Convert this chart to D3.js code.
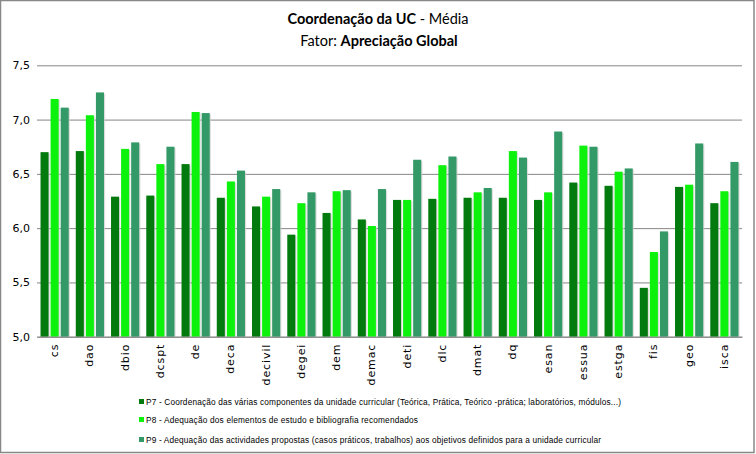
<!DOCTYPE html>
<html>
<head>
<meta charset="utf-8">
<script src="https://cdn.jsdelivr.net/npm/d3@7"></script>
<style>
  html, body { margin: 0; padding: 0; background: #fff; }
  svg { display: block; }
</style>
</head>
<body>
<svg id="chart" width="756" height="454"></svg>
<script>
const categories = ["cs","dao","dbio","dcspt","de","deca","decivil","degei","dem","demac","deti","dlc","dmat","dq","esan","essua","estga","fis","geo","isca"];
const seriesNames = [
  "P7 - Coordenação das várias componentes da unidade curricular (Teórica, Prática, Teórico -prática; laboratórios, módulos...)",
  "P8 - Adequação dos elementos de estudo e bibliografia recomendados",
  "P9 - Adequação das actividades propostas (casos práticos, trabalhos) aos objetivos definidos para a unidade curricular"
];
const p7 = [6.70, 6.71, 6.29, 6.30, 6.59, 6.28, 6.20, 5.94, 6.14, 6.08, 6.26, 6.27, 6.28, 6.28, 6.26, 6.42, 6.39, 5.45, 6.38, 6.23];
const p8 = [7.19, 7.04, 6.73, 6.59, 7.07, 6.43, 6.29, 6.23, 6.34, 6.02, 6.26, 6.58, 6.33, 6.71, 6.33, 6.76, 6.52, 5.78, 6.40, 6.34];
const p9 = [7.11, 7.25, 6.79, 6.75, 7.06, 6.53, 6.36, 6.33, 6.35, 6.36, 6.63, 6.66, 6.37, 6.65, 6.89, 6.75, 6.55, 5.97, 6.78, 6.61];
const yTicks = [5.0, 5.5, 6.0, 6.5, 7.0, 7.5];
const colors = ["#037a0d", "#0cf20c", "#339966"];

const seriesValues = [p7, p8, p9];
const svg = d3.select("#chart");

// outer border
svg.append("rect").attr("x", 0.5).attr("y", 0.5).attr("width", 753.5).attr("height", 452)
  .attr("fill", "#fff").attr("stroke", "#888").attr("stroke-width", 1.5);

// title
const title = svg.append("g").attr("font-family", "Lato, 'Open Sans', sans-serif").attr("font-size", 14.5)
  .attr("text-anchor", "middle").attr("fill", "#000");
const t1 = title.append("text").attr("x", 378).attr("y", 24);
t1.append("tspan").attr("font-weight", "bold").text("Coordenação da UC");
t1.append("tspan").text(" - Média");
const t2 = title.append("text").attr("x", 379).attr("y", 46);
t2.append("tspan").text("Fator: ");
t2.append("tspan").attr("font-weight", "bold").text("Apreciação Global");

const plot = { left: 37, right: 742, top: 65.3, bottom: 336.7 };
const x = d3.scaleBand().domain(categories).range([plot.left, plot.right]).padding(0);
const cw = x.bandwidth();
const gap = cw * 0.1;
const xs = d3.scaleBand().domain([0,1,2]).range([gap, cw - gap]).paddingInner(0.2).paddingOuter(0);
const y = d3.scaleLinear().domain([5, 7.5]).range([plot.bottom, plot.top]);

// gridlines via axis
const yAxis = d3.axisLeft(y).tickValues(yTicks).tickSize(-(plot.right - plot.left))
  .tickFormat(d => d3.format(".1f")(d).replace(".", ","));
const gy = svg.append("g").attr("transform", `translate(${plot.left},0)`).call(yAxis);
gy.select(".domain").remove();
gy.selectAll(".tick line").attr("stroke", "#868686").attr("stroke-width", 1);
gy.selectAll(".tick text").attr("x", -7).attr("font-family", "'DejaVu Sans', Verdana, sans-serif")
  .attr("font-size", 11).attr("fill", "#000");

// bars
const groups = svg.append("g").selectAll("g").data(categories).join("g")
  .attr("transform", d => `translate(${x(d)},0)`);
const barData = (c, i) => seriesValues.map((vals, s) => ({ s, v: vals[i] }));
groups.selectAll("rect.shadow").data((c, i) => barData(c, i)).join("rect")
  .attr("class", "shadow")
  .attr("x", d => xs(d.s) + 1.2).attr("width", xs.bandwidth())
  .attr("y", d => y(d.v) + 1.2).attr("height", d => plot.bottom - y(d.v) - 1.2)
  .attr("fill", "#cfcfcf").attr("opacity", 0.7);
groups.selectAll("rect.bar").data((c, i) => barData(c, i)).join("rect")
  .attr("class", "bar")
  .attr("x", d => xs(d.s)).attr("width", xs.bandwidth())
  .attr("y", d => y(d.v)).attr("height", d => plot.bottom - y(d.v))
  .attr("fill", d => colors[d.s]);

// x axis
const xAxis = d3.axisBottom(x).tickSize(0);
const gx = svg.append("g").attr("transform", `translate(0,${plot.bottom})`).call(xAxis);
gx.select(".domain").attr("stroke", "#868686");
gx.selectAll(".tick text")
  .attr("font-family", "'DejaVu Sans', Verdana, sans-serif").attr("font-size", 11).attr("fill", "#000")
  .attr("letter-spacing", 0.9)
  .attr("text-anchor", "end").attr("dominant-baseline", "central")
  .attr("transform", "rotate(-90)").attr("x", -7).attr("y", 0).attr("dy", null);

// legend
const legend = svg.append("g").attr("font-family", "'Liberation Sans', Arial, sans-serif").attr("font-size", 8.3).attr("fill", "#000");
const legendY = [401.5, 419.5, 439.5];
const legendW = [475, 272, 455];
seriesNames.forEach((name, i) => {
  legend.append("rect").attr("x", 139).attr("y", legendY[i] - 2.5).attr("width", 5).attr("height", 5).attr("fill", colors[i]);
  legend.append("text").attr("x", 146).attr("y", legendY[i] + 3)
    .attr("textLength", legendW[i]).attr("lengthAdjust", "spacing").text(name);
});
</script>
</body>
</html>
